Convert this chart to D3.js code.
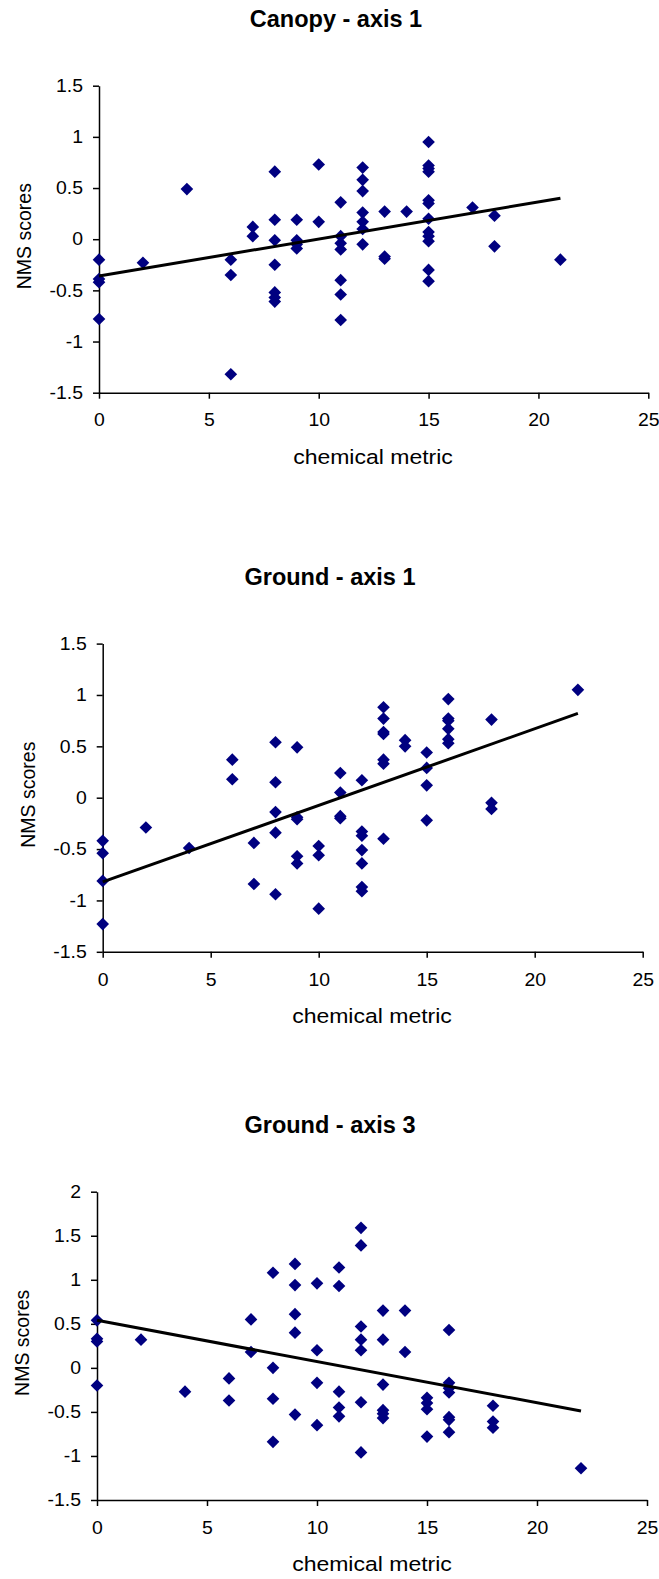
<!DOCTYPE html>
<html>
<head>
<meta charset="utf-8">
<script src="https://cdn.jsdelivr.net/npm/d3@7"></script>
<style>
  body { margin: 0; background: #fff; }
  svg { display: block; }
  text { font-family: Arial, "Liberation Sans", sans-serif; fill: #000; }
</style>
</head>
<body>
<div id="chart"></div>
<script>
// ---- data ----
var titles = ["Canopy - axis 1", "Ground - axis 1", "Ground - axis 3"];
var xTicks = [0, 5, 10, 15, 20, 25];
var yTicks12 = [-1.5, -1, -0.5, 0, 0.5, 1, 1.5];
var yTicks3 = [-1.5, -1, -0.5, 0, 0.5, 1, 1.5, 2];

var canopy1X = [0, 0, 0, 0, 2, 4, 6, 6, 6, 7, 7,
  8, 8, 8, 8, 8, 8, 8, 9, 9, 9, 9, 10, 10,
  11, 11, 11, 11, 11, 11, 11, 12, 12, 12, 12, 12, 12, 12,
  13, 13, 13, 14, 15, 15, 15, 15, 15, 15, 15, 15, 15, 15, 15, 15,
  17, 18, 18, 21];
var canopy1Y = [-0.20, -0.39, -0.42, -0.78, -0.23, 0.49, -0.20, -0.35, -1.32, 0.12, 0.03,
  0.66, 0.19, -0.01, -0.25, -0.52, -0.57, -0.61, 0.19, -0.01, -0.05, -0.09, 0.73, 0.17,
  0.36, 0.03, -0.04, -0.10, -0.40, -0.54, -0.79, 0.70, 0.58, 0.47, 0.26, 0.17, 0.10, -0.05,
  0.27, -0.17, -0.19, 0.27, 0.95, 0.72, 0.69, 0.66, 0.38, 0.35, 0.20, 0.07, 0.03, -0.02, -0.30, -0.41,
  0.31, 0.23, -0.07, -0.20];
var canopy1Trend = [[0, -0.36], [21, 0.40]];

var ground1X = [0, 0, 0, 0, 2, 4, 6, 6, 7, 7,
  8, 8, 8, 8, 8, 9, 9, 9, 9, 9, 10, 10, 10,
  11, 11, 11, 11, 12, 12, 12, 12, 12, 12, 12,
  13, 13, 13, 13, 13, 13, 13, 14, 14, 15, 15, 15, 15,
  16, 16, 16, 16, 16, 16, 18, 18, 18, 22];
var ground1Y = [-0.42, -0.54, -0.81, -1.23, -0.29, -0.49, 0.37, 0.18, -0.44, -0.84,
  0.54, 0.15, -0.14, -0.34, -0.94, 0.49, -0.19, -0.21, -0.57, -0.64, -0.47, -0.56, -1.08,
  0.24, 0.05, -0.18, -0.20, 0.17, -0.33, -0.37, -0.51, -0.64, -0.87, -0.91,
  0.88, 0.77, 0.64, 0.62, 0.37, 0.33, -0.40, 0.56, 0.50, 0.44, 0.29, 0.12, -0.22,
  0.96, 0.77, 0.75, 0.67, 0.57, 0.53, 0.76, -0.05, -0.11, 1.05];
var ground1Trend = [[0, -0.82], [22, 0.82]];

var ground3X = [0, 0, 0, 0, 2, 4, 6, 6, 7, 7,
  8, 8, 8, 8, 9, 9, 9, 9, 9, 10, 10, 10, 10,
  11, 11, 11, 11, 11, 12, 12, 12, 12, 12, 12, 12,
  13, 13, 13, 13, 13, 13, 14, 14, 15, 15, 15, 15,
  16, 16, 16, 16, 16, 16, 16, 18, 18, 18, 22];
var ground3Y = [0.54, 0.33, 0.30, -0.20, 0.32, -0.27, -0.12, -0.37, 0.55, 0.18,
  1.08, 0.00, -0.35, -0.84, 1.18, 0.94, 0.61, 0.40, -0.53, 0.96, 0.20, -0.17, -0.65,
  1.14, 0.93, -0.27, -0.45, -0.55, 1.59, 1.39, 0.47, 0.32, 0.20, -0.39, -0.96,
  0.65, 0.32, -0.19, -0.48, -0.52, -0.57, 0.65, 0.18, -0.34, -0.40, -0.47, -0.78,
  0.43, -0.17, -0.23, -0.28, -0.56, -0.59, -0.73, -0.43, -0.61, -0.68, -1.14];
var ground3Trend = [[0, 0.54], [22, -0.49]];

// ---- layout (pixel boxes for each plot area) ----
var panels = [
  { title: titles[0], xs: canopy1X, ys: canopy1Y, trend: canopy1Trend, yDomain: [-1.5, 1.5], yTicks: yTicks12,
    left: 99, right: 648.3, top: 85.7, bottom: 392.7, titleX: 336, xTitleX: 373 },
  { title: titles[1], xs: ground1X, ys: ground1Y, trend: ground1Trend, yDomain: [-1.5, 1.5], yTicks: yTicks12,
    left: 102.7, right: 642.7, top: 643.6, bottom: 951.8, titleX: 330, xTitleX: 372 },
  { title: titles[2], xs: ground3X, ys: ground3Y, trend: ground3Trend, yDomain: [-1.5, 2], yTicks: yTicks3,
    left: 97, right: 647, top: 1191.7, bottom: 1500, titleX: 330, xTitleX: 372 }
];

var svgWidth = 659;
var svgHeight = 1579;
var tickSX = 1.08;   // the source text is drawn a bit wide
var labelSX = 1.18;

var svg = d3.select("#chart")
  .append("svg")
  .attr("width", svgWidth)
  .attr("height", svgHeight);

// square diamond marker
var diamond = {
  draw: function(context, size) {
    var r = Math.sqrt(size / 2);
    context.moveTo(0, -r);
    context.lineTo(r, 0);
    context.lineTo(0, r);
    context.lineTo(-r, 0);
    context.closePath();
  }
};

panels.forEach(function(p) {
  var x = d3.scaleLinear().domain([0, 25]).range([p.left, p.right]);
  var y = d3.scaleLinear().domain(p.yDomain).range([p.bottom, p.top]);

  var g = svg.append("g");

  // title
  g.append("text")
    .attr("x", p.titleX)
    .attr("y", p.top - 59)
    .attr("text-anchor", "middle")
    .style("font-size", "23.5px")
    .style("font-weight", "bold")
    .text(p.title);

  // axes
  var xAxis = g.append("g")
    .attr("transform", `translate(0, ${p.bottom})`)
    .call(d3.axisBottom(x).tickValues(xTicks).tickSize(6).tickSizeOuter(0).tickPadding(15)
      .tickFormat(d => String(d)));

  var yAxis = g.append("g")
    .attr("transform", `translate(${p.left}, 0)`)
    .call(d3.axisLeft(y).tickValues(p.yTicks).tickSize(6).tickSizeOuter(0)
      .tickFormat(d => String(d)));

  [xAxis, yAxis].forEach(function(a) {
    a.attr("font-size", null).attr("font-family", null);
    a.select(".domain").attr("stroke", "#000").attr("stroke-width", 1.5);
    a.selectAll(".tick line").attr("stroke", "#000").attr("stroke-width", 1.5);
    a.selectAll(".tick text")
      .style("font-size", "18px")
      .style("font-family", "Arial, 'Liberation Sans', sans-serif")
      .attr("fill", "#000");
  });

  xAxis.selectAll(".tick text")
    .attr("transform", `scale(${tickSX},1)`);

  yAxis.selectAll(".tick text")
    .attr("x", -16 / tickSX)
    .attr("transform", `scale(${tickSX},1)`);

  // axis titles
  g.append("text")
    .attr("transform", `translate(${p.xTitleX}, ${p.bottom + 71}) scale(${labelSX},1)`)
    .attr("text-anchor", "middle")
    .style("font-size", "19.5px")
    .text("chemical metric");

  g.append("text")
    .attr("transform", `translate(${p.left - 75}, ${(p.top + p.bottom) / 2 - 3}) rotate(-90)`)
    .attr("text-anchor", "middle")
    .attr("dy", "0.35em")
    .style("font-size", "19.5px")
    .text("NMS scores");

  // points
  var pts = p.xs.map(function(v, i) { return { x: v, y: p.ys[i] }; });

  g.append("g").selectAll("path")
    .data(pts)
    .enter()
    .append("path")
    .attr("d", d3.symbol().type(diamond).size(80))
    .attr("transform", d => `translate(${x(d.x)}, ${y(d.y)})`)
    .attr("fill", "#000080");

  // trend line
  g.append("path")
    .datum(p.trend)
    .attr("d", d3.line().x(d => x(d[0])).y(d => y(d[1])))
    .attr("fill", "none")
    .attr("stroke", "#000")
    .attr("stroke-width", 3);
});
</script>
</body>
</html>
